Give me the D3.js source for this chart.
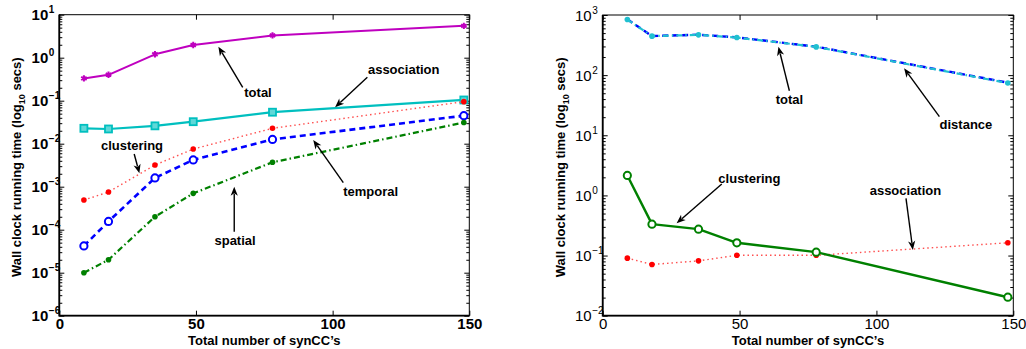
<!DOCTYPE html>
<html>
<head>
<meta charset="utf-8">
<script src="https://cdn.jsdelivr.net/npm/d3@7"></script>
<style>
  html, body { margin: 0; padding: 0; background: #fff; }
  svg { display: block; font-family: "Liberation Sans", Arial, sans-serif; }
</style>
</head>
<body>
<div id="chart"></div>
<script>
// Wall clock running time vs number of synCC's, two log-scale panels.

const nSynCC = [9, 18, 35, 49, 78, 148];

// left panel
const leftTotal       = [0.33, 0.40, 1.2, 1.97, 3.3, 5.5];
const leftAssociation = [0.0228, 0.022, 0.026, 0.0325, 0.054, 0.104];
const leftClustering  = [4.9e-4, 7.5e-4, 3.2e-3, 7.5e-3, 0.0228, 0.095];
const leftTemporal    = [4.2e-5, 1.56e-4, 1.6e-3, 4.2e-3, 0.0126, 0.0448];
const leftSpatial     = [1.0e-5, 2.0e-5, 2.0e-4, 7.0e-4, 3.7e-3, 0.031];

// right panel
const rightTotal       = [848, 447, 470, 425, 297, 75];
const rightDistance    = [840, 445, 468, 422, 295, 74];
const rightClustering  = [2.15, 0.333, 0.275, 0.163, 0.114, 0.0203];
const rightAssociation = [0.0905, 0.071, 0.0816, 0.101, 0.101, 0.163];

const xTicks = [0, 50, 100, 150];
const leftExponents = [-6, -5, -4, -3, -2, -1, 0, 1];
const rightExponents = [-2, -1, 0, 1, 2, 3];

// annotations: label position and arrow tail -> head, in data units
const leftNotes = [
  { text: "total",       tx: 72.7,  ty: 0.16,    x1: 67.1,  y1: 0.205,   x2: 58.2,  y2: 1.8 },
  { text: "association", tx: 126,   ty: 0.52,    x1: 112.7, y1: 0.35,    x2: 100.9, y2: 0.0703 },
  { text: "clustering",  tx: 26.6,  ty: 0.009,   x1: 27.4,  y1: 5.76e-3, x2: 29.3,  y2: 2.05e-3 },
  { text: "temporal",    tx: 113.9, ty: 7.65e-4, x1: 103.9, y1: 1.24e-3, x2: 92.9,  y2: 0.0122 },
  { text: "spatial",     tx: 64.3,  ty: 5.75e-5, x1: 64.0,  y1: 9e-5,    x2: 64.0,  y2: 1e-3 }
];
const rightNotes = [
  { text: "total",       tx: 68.2,  ty: 40,   x1: 68.2,  y1: 55,    x2: 64.2,  y2: 297 },
  { text: "distance",    tx: 132.7, ty: 15.2, x1: 123,   y1: 20.4,  x2: 110.1, y2: 130 },
  { text: "clustering",  tx: 53.6,  ty: 1.93, x1: 43.5,  y1: 1.55,  x2: 27,    y2: 0.344 },
  { text: "association", tx: 110.6, ty: 1.2,  x1: 110.8, y1: 0.895, x2: 113.3, y2: 0.124 }
];

const W = 1026, H = 349;
const svg = d3.select("#chart").append("svg").attr("width", W).attr("height", H);

const panels = [
  {
    left: 59.3, top: 14.7, width: 410, height: 301,
    exps: leftExponents, boldTicks: true,
    series: [
      { values: leftTotal,       color: "#bf00bf", width: 2,   dash: null,          marker: "star" },
      { values: leftAssociation, color: "#00bfbf", width: 2.2, dash: null,          marker: "square" },
      { values: leftClustering,  color: "#ff5050", width: 1.4, dash: "1.5 3",       marker: "dot" },
      { values: leftTemporal,    color: "#0000ff", width: 2.6, dash: "6 4",         marker: "circle" },
      { values: leftSpatial,     color: "#008000", width: 2.2, dash: "6 3 1.5 3",   marker: "dot" }
    ],
    notes: leftNotes
  },
  {
    left: 602.7, top: 15, width: 410.6, height: 300.7,
    exps: rightExponents, boldTicks: false,
    series: [
      { values: rightAssociation, color: "#ff5050", width: 1.4, dash: "1.5 3",     marker: "dot" },
      { values: rightClustering,  color: "#008000", width: 2.4, dash: null,        marker: "circle" },
      { values: rightTotal,       color: "#0000ff", width: 2.4, dash: "6 4",       marker: null },
      { values: rightDistance,    color: "#20c0d0", width: 2.2, dash: "6 3 1.5 3", marker: "dot" }
    ],
    notes: rightNotes
  }
];

panels.forEach(p => drawPanel(p));

function drawPanel(p) {
  const g = svg.append("g").attr("transform", `translate(${p.left},${p.top})`);
  const x = d3.scaleLinear().domain([0, 150]).range([0, p.width]);
  const lo = d3.min(p.exps), hi = d3.max(p.exps);
  const y = d3.scaleLog().domain([Math.pow(10, lo), Math.pow(10, hi)]).range([p.height, 0]);

  const majors = p.exps.map(e => Math.pow(10, e));
  const minors = [];
  for (let e = lo; e < hi; e++) {
    for (let k = 2; k <= 9; k++) minors.push(k * Math.pow(10, e));
  }

  // ticks (inward, on all four sides like matlab "box on")
  const tickStyle = sel => {
    sel.select(".domain").remove();
    sel.selectAll("line").attr("stroke", "#000").attr("stroke-width", 1);
  };
  g.append("g").attr("transform", `translate(0,${p.height})`)
    .call(d3.axisBottom(x).tickValues(xTicks).tickSize(-5).tickPadding(3).tickFormat(d3.format("d")))
    .call(tickStyle)
    .call(s => s.selectAll("text")
      .attr("fill", "#000")
      .style("font-size", "15px")
      .style("font-weight", p.boldTicks ? "bold" : "normal")
      .style("font-family", "Liberation Sans, Arial, sans-serif"));
  g.append("g")
    .call(d3.axisTop(x).tickValues(xTicks).tickSize(-5).tickFormat(""))
    .call(tickStyle);
  g.append("g").call(d3.axisLeft(y).tickValues(majors).tickSize(-5).tickFormat("")).call(tickStyle);
  g.append("g").call(d3.axisLeft(y).tickValues(minors).tickSize(-3).tickFormat("")).call(tickStyle);
  g.append("g").attr("transform", `translate(${p.width},0)`)
    .call(d3.axisRight(y).tickValues(majors).tickSize(-5).tickFormat("")).call(tickStyle);
  g.append("g").attr("transform", `translate(${p.width},0)`)
    .call(d3.axisRight(y).tickValues(minors).tickSize(-3).tickFormat("")).call(tickStyle);

  // box
  g.append("rect").attr("width", p.width).attr("height", p.height)
    .attr("fill", "none").attr("stroke", "#000").attr("stroke-width", 1);
  g.append("path").attr("d", `M0,0V${p.height}H${p.width}`)
    .attr("fill", "none").attr("stroke", "#000").attr("stroke-width", 1.8);

  // y tick labels 10^e
  const fw = p.boldTicks ? "bold" : "normal";
  const lab = g.append("g").attr("class", "ylabels");
  p.exps.forEach(e => {
    const yy = y(Math.pow(10, e));
    lab.append("text").attr("x", -11).attr("y", yy + 5.5)
      .attr("text-anchor", "end").style("font-size", "15px").style("font-weight", fw)
      .text("10");
    lab.append("text").attr("x", -10.5).attr("y", yy - 1.5)
      .attr("text-anchor", "start").style("font-size", "10px").style("font-weight", fw)
      .text(e < 0 ? "\u2212" + Math.abs(e) : String(e));
  });

  // axis titles
  g.append("text").attr("x", p.width / 2).attr("y", p.height + 29)
    .attr("text-anchor", "middle").style("font-size", "13px").style("font-weight", "bold")
    .text("Total number of synCC\u2019s");
  const yl = g.append("text")
    .attr("transform", `translate(-38,${p.height / 2 + 2}) rotate(-90)`)
    .attr("text-anchor", "middle").style("font-size", "13px").style("font-weight", "bold");
  yl.append("tspan").text("Wall clock running time (log");
  yl.append("tspan").attr("dy", 4).style("font-size", "9px").text("10");
  yl.append("tspan").attr("dy", -4).text(" secs)");

  // series
  const line = d3.line().x((d, i) => x(nSynCC[i])).y(d => y(d));
  p.series.forEach(s => {
    g.append("path").datum(s.values)
      .attr("d", line)
      .attr("fill", "none")
      .attr("stroke", s.color)
      .attr("stroke-width", s.width)
      .attr("stroke-dasharray", s.dash)
      .attr("stroke-linejoin", "round");

    const pts = g.append("g").selectAll("g").data(s.values).join("g")
      .attr("transform", (d, i) => `translate(${x(nSynCC[i])},${y(d)})`);
    if (s.marker === "dot") {
      pts.append("circle").attr("r", 2.8).attr("fill", s.color === "#ff5050" ? "#ff0000" : s.color);
    } else if (s.marker === "circle") {
      pts.append("circle").attr("r", 3.6).attr("fill", "#fff")
        .attr("stroke", s.color).attr("stroke-width", 2);
    } else if (s.marker === "square") {
      pts.append("rect").attr("x", -3.5).attr("y", -3.5).attr("width", 7).attr("height", 7)
        .attr("fill", "#60d8d8").attr("stroke", s.color).attr("stroke-width", 1.8);
    } else if (s.marker === "star") {
      pts.append("path").attr("d", d3.symbol(d3.symbolAsterisk, 28)())
        .attr("fill", "none").attr("stroke", s.color).attr("stroke-width", 2);
      pts.append("circle").attr("r", 1.6).attr("fill", s.color);
    }
  });

  // annotations
  p.notes.forEach(n => {
    const x1 = x(n.x1), y1 = y(n.y1), x2 = x(n.x2), y2 = y(n.y2);
    const ang = Math.atan2(y2 - y1, x2 - x1);
    const L = 9, Wd = 3.6;
    const bx = x2 - L * Math.cos(ang), by = y2 - L * Math.sin(ang);
    g.append("line").attr("x1", x1).attr("y1", y1).attr("x2", bx + 2 * Math.cos(ang)).attr("y2", by + 2 * Math.sin(ang))
      .attr("stroke", "#000").attr("stroke-width", 1.4);
    const px = -Math.sin(ang), py = Math.cos(ang);
    g.append("path")
      .attr("d", `M${x2},${y2}L${bx + Wd * px},${by + Wd * py}L${bx + 2.5 * Math.cos(ang)},${by + 2.5 * Math.sin(ang)}L${bx - Wd * px},${by - Wd * py}Z`)
      .attr("fill", "#000");
    g.append("text").attr("x", x(n.tx)).attr("y", y(n.ty) + 4.6)
      .attr("text-anchor", "middle").style("font-size", "13px").style("font-weight", "bold")
      .text(n.text);
  });
}
</script>
</body>
</html>
